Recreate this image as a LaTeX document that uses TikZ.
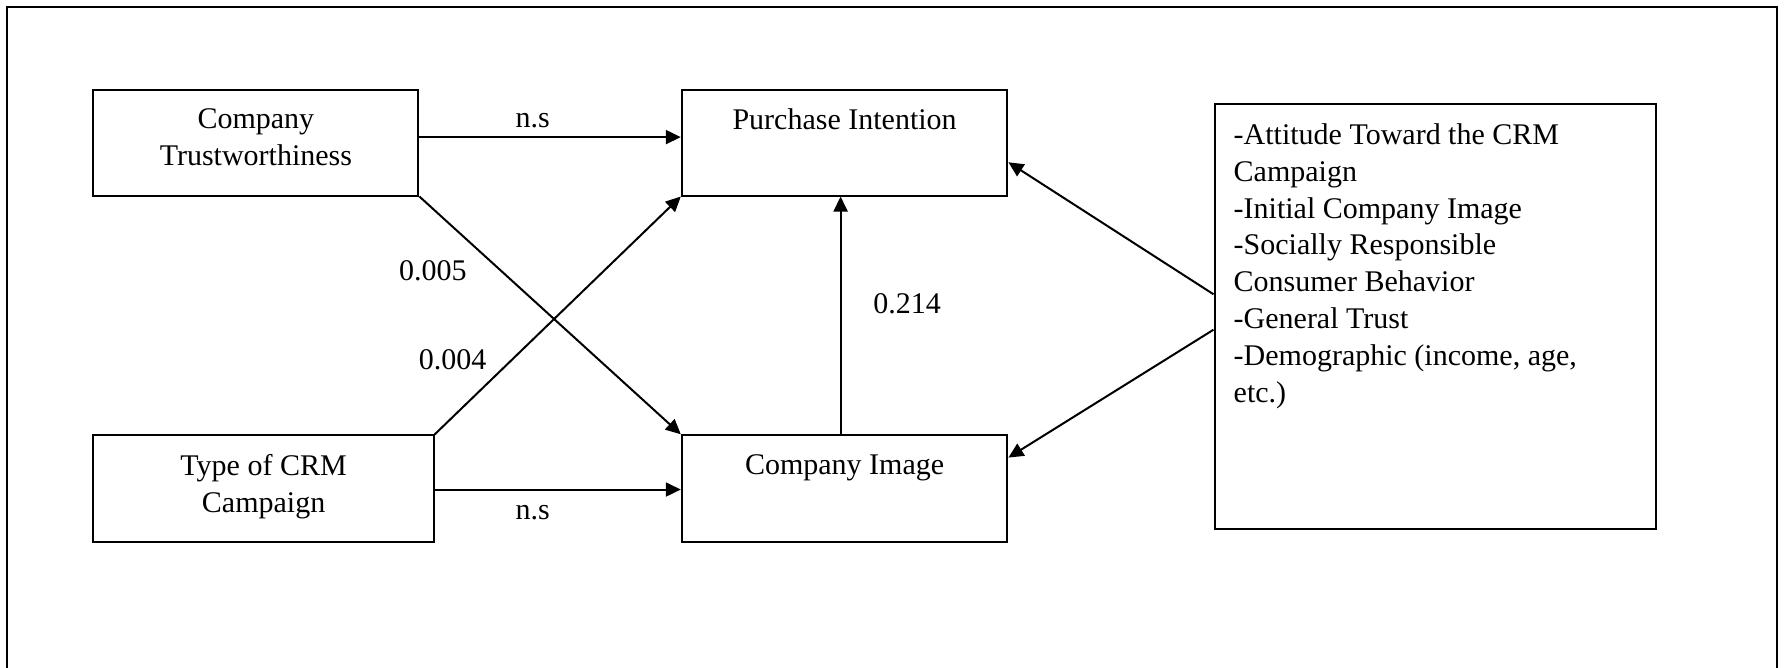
\documentclass[tikz,border=0pt]{standalone}
\usepackage{fontspec}
\setmainfont{Liberation Serif}
\usetikzlibrary{arrows.meta, positioning, calc}

\begin{document}
\begin{tikzpicture}[x=1pt, y=-1pt, >={Triangle[length=15pt, width=14pt]}, line join=miter,
	font=\fontsize{30}{36.8}\selectfont]
	
	\tikzset{
		frame/.style={line width=2pt},
		box/.style={draw, line width=2pt, inner sep=0pt, anchor=north west},
		boxtext/.style={anchor=north, inner sep=0pt, yshift=-20pt, align=center},
		listtext/.style={anchor=north west, inner sep=0pt, xshift=20pt, yshift=-20pt, align=left},
		arr/.style={line width=2pt, ->},
		num/.style={anchor=base, inner sep=0pt}
	}
	
	\useasboundingbox (0,0) rectangle (1785,667);
	\draw[frame] (7,700) -- (7,7) -- (1777,7) -- (1777,700);
	
	% variables
	\node[box, minimum width=325pt, minimum height=106pt,
	label={[boxtext]north:{Company\\Trustworthiness}}] (ct) at (92.4,88.5) {};
	\node[box, minimum width=340.4pt, minimum height=106.3pt,
	label={[boxtext]north:{Type of CRM\\Campaign}}] (tc) at (92.4,434.3) {};
	\node[box, minimum width=325.6pt, minimum height=106pt,
	label={[boxtext]north:{Purchase Intention}}] (pi) at (680.8,88.5) {};
	\node[box, minimum width=325.6pt, minimum height=106.3pt,
	label={[boxtext]north:{Company Image}}] (ci) at (680.8,434.3) {};
	
	% covariates
	\node[box, minimum width=441pt, minimum height=425pt,
	label={[listtext]north west:{-Attitude Toward the CRM\\Campaign\\-Initial Company Image\\-Socially Responsible\\Consumer Behavior\\-General Trust\\-Demographic (income, age,\\etc.)}}] (cov) at (1213.5,103.4) {};
	
	% paths
	\draw[arr] ($(ct.north east)!.45!(ct.south east)$) -- ($(pi.north west)!.45!(pi.south west)$);
	\draw[arr] ($(tc.north east)!.51!(tc.south east)$) -- ($(ci.north west)!.51!(ci.south west)$);
	\draw[arr] (ct.south east) -- (ci.north west);
	\draw[arr] (tc.north east) -- (pi.south west);
	\draw[arr] ([xshift=-4pt]ci.north) -- ([xshift=-4pt]pi.south);
	\draw[arr] ($(cov.north west)!.447!(cov.south west)$) -- ($(pi.north east)!.683!(pi.south east)$);
	\draw[arr] ($(cov.north west)!.53!(cov.south west)$) -- ($(ci.north east)!.215!(ci.south east)$);
	
	% estimates
	\node[num] (ns1) at (532.7,127.6) {n.s};
	\node[num] (ns2) at (532.7,519) {n.s};
	\node[num] (e1) at (432.8,280.7) {0.005};
	\node[num] (e2) at (452.6,369.2) {0.004};
	\node[num] (e3) at (907,313.5) {0.214};
	
\end{tikzpicture}
\end{document}
